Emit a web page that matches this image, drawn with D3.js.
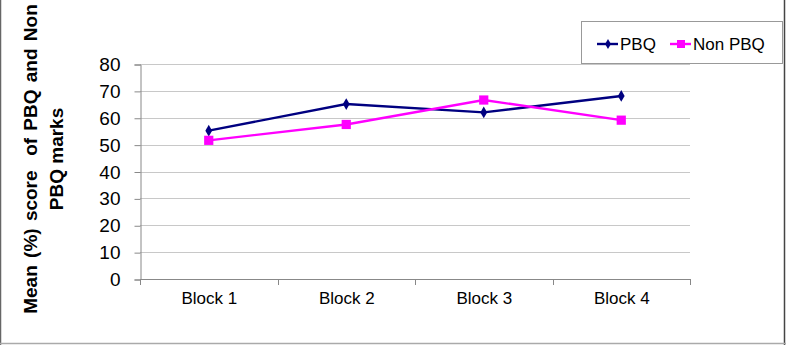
<!DOCTYPE html>
<html>
<head>
<meta charset="utf-8">
<script src="https://cdn.jsdelivr.net/npm/d3@7"></script>
<style>
  body { margin: 0; background: #fff; }
  text { font-family: Arial, "Liberation Sans", sans-serif; fill: #000; }
</style>
</head>
<body>
<div id="chart"></div>
<script>
const blocks = ["Block 1", "Block 2", "Block 3", "Block 4"];
const pbq = [55.2, 65.1, 62.0, 68.1];
const nonPbq = [51.6, 57.5, 66.6, 59.1];
const yTicks = [0, 10, 20, 30, 40, 50, 60, 70, 80];

const W = 786, H = 345;
const plot = {left: 140, right: 690, top: 64, bottom: 279};

const svg = d3.select("#chart")
    .append("svg")
    .attr("width", W)
    .attr("height", H);

// outer frame (left, right, bottom edges visible)
svg.append("line").attr("x1", 0.5).attr("x2", 0.5).attr("y1", 0).attr("y2", H)
    .attr("stroke", "#666").attr("stroke-width", 1.5);
svg.append("line").attr("x1", 784.5).attr("x2", 784.5).attr("y1", 0).attr("y2", H)
    .attr("stroke", "#444").attr("stroke-width", 1.5);
svg.append("line").attr("x1", 0).attr("x2", W).attr("y1", 343.5).attr("y2", 343.5)
    .attr("stroke", "#aaa").attr("stroke-width", 1.5);

const x = d3.scaleBand()
    .domain(blocks)
    .range([plot.left, plot.right]);

const y = d3.scaleLinear()
    .domain([0, 80])
    .range([plot.bottom, plot.top]);

// gridlines
svg.append("g")
    .selectAll("line")
    .data(yTicks.filter(d => d > 0))
    .enter()
    .append("line")
    .attr("x1", plot.left)
    .attr("x2", plot.right)
    .attr("y1", d => Math.round(y(d)) + 0.5)
    .attr("y2", d => Math.round(y(d)) + 0.5)
    .attr("stroke", "#c8c8c8")
    .attr("stroke-width", 1.2);

// y axis
const yAxis = svg.append("g")
    .attr("transform", `translate(${plot.left + 0.5},0.5)`)
    .call(d3.axisLeft(y).tickValues(yTicks).tickSize(6).tickPadding(14));
yAxis.selectAll("path, line").attr("stroke", "#888");
yAxis.selectAll("text").style("font-size", "19px").style("font-family", "Arial, 'Liberation Sans', sans-serif");

// x axis
const xAxis = svg.append("g")
    .attr("transform", `translate(0.5,${Math.round(plot.bottom) + 0.5})`)
    .call(d3.axisBottom(x).tickSize(0).tickPadding(12));
xAxis.selectAll("path").attr("stroke", "#888").attr("d", `M${plot.left},0H${plot.right}`);
xAxis.selectAll("text").style("font-size", "17px").style("font-family", "Arial, 'Liberation Sans', sans-serif");

// x category dividers
const edges = blocks.map(b => x(b)).concat([plot.right]);
svg.append("g")
    .selectAll("line")
    .data(edges)
    .enter()
    .append("line")
    .attr("x1", d => Math.round(d) + 0.5)
    .attr("x2", d => Math.round(d) + 0.5)
    .attr("y1", plot.bottom)
    .attr("y2", plot.bottom + 6)
    .attr("stroke", "#888");

const cx = d => x(d) + x.bandwidth() / 2;

const line = d3.line()
    .x(d => cx(d.block))
    .y(d => y(d.value));

const series = [
    {name: "PBQ", values: pbq, color: "#000080", marker: "diamond"},
    {name: "Non PBQ", values: nonPbq, color: "#ff00ff", marker: "square"}
];

series.forEach(s => {
    const pts = blocks.map((b, i) => ({block: b, value: s.values[i]}));
    svg.append("path")
        .datum(pts)
        .attr("fill", "none")
        .attr("stroke", s.color)
        .attr("stroke-width", 2.4)
        .attr("d", line);

    const sym = s.marker === "diamond"
        ? d3.symbol().type(d3.symbolDiamond).size(40)
        : d3.symbol().type(d3.symbolSquare).size(85);
    svg.append("g")
        .selectAll("path")
        .data(pts)
        .enter()
        .append("path")
        .attr("transform", d => `translate(${cx(d.block)},${y(d.value)})`)
        .attr("d", sym)
        .attr("fill", s.color);
});

// y axis title
const title = svg.append("text")
    .attr("transform", "translate(37,159) rotate(-90)")
    .attr("text-anchor", "middle")
    .style("font-size", "19px")
    .style("font-weight", "bold")
    .style("white-space", "pre");
title.append("tspan").attr("x", 0).attr("y", 0)
    .style("word-spacing", "2px")
    .text("Mean (%) score  of PBQ and Non");
title.append("tspan").attr("x", 0).attr("y", 26).text("PBQ marks");

// legend
const legend = svg.append("g");
legend.append("rect")
    .attr("x", 581.5).attr("y", 21.5)
    .attr("width", 201).attr("height", 42)
    .attr("fill", "#fff")
    .attr("stroke", "#999")
    .attr("stroke-width", 1);

const legendItems = [
    {s: series[0], x0: 597},
    {s: series[1], x0: 670}
];
legendItems.forEach(({s, x0}) => {
    legend.append("line")
        .attr("x1", x0).attr("x2", x0 + 21)
        .attr("y1", 44).attr("y2", 44)
        .attr("stroke", s.color).attr("stroke-width", 2.4);
    const sym = s.marker === "diamond"
        ? d3.symbol().type(d3.symbolDiamond).size(30)
        : d3.symbol().type(d3.symbolSquare).size(64);
    legend.append("path")
        .attr("transform", `translate(${x0 + 11},44)`)
        .attr("d", sym)
        .attr("fill", s.color);
    legend.append("text")
        .attr("x", x0 + 23)
        .attr("y", 50)
        .style("font-size", "17px")
        .text(s.name);
});
</script>
</body>
</html>
